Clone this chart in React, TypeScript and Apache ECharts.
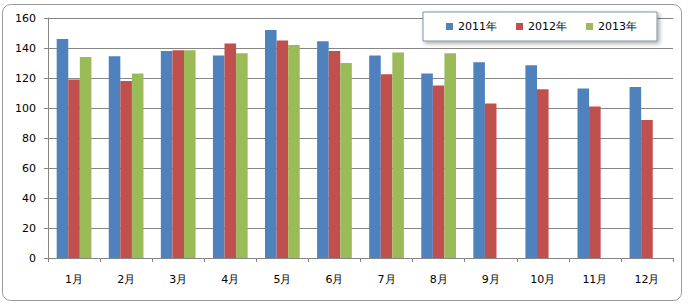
import React, { useEffect, useRef } from "react";
import * as echarts from "echarts";

const months = ["1月", "2月", "3月", "4月", "5月", "6月", "7月", "8月", "9月", "10月", "11月", "12月"];
const seriesNames = ["2011年", "2012年", "2013年"];
const v2011 = [146, 134.5, 138, 135, 152, 144.5, 135, 123, 130.5, 128.5, 113, 114];
const v2012 = [119, 118, 138.5, 143, 145, 138, 122.5, 115, 103, 112.5, 101, 92];
const v2013 = [134, 123, 138.5, 136.5, 142, 130, 137, 136.5, null, null, null, null];
const colors = ["#4F81BD", "#C0504D", "#9BBB59"];
const FONT = "DejaVu Sans";

export default function App() {
  const ref = useRef<HTMLDivElement>(null);
  useEffect(() => {
    document.body.style.margin = "0";
    const chart = echarts.init(ref.current!, null, { renderer: "svg" });
    const data = [v2011, v2012, v2013];
    chart.setOption({
      animation: false,
      backgroundColor: "#ffffff",
      textStyle: { fontFamily: FONT },
      graphic: [
        {
          type: "rect",
          shape: { x: 2.5, y: 4.5, width: 679, height: 296, r: 8 },
          style: { fill: "none", stroke: "#9a9a9a", lineWidth: 1 },
          z: -1,
        },
      ],
      legend: {
        left: 423,
        top: 12,
        padding: [9, 20, 9, 23],
        itemWidth: 7,
        itemHeight: 7,
        itemGap: 19,
        icon: "rect",
        backgroundColor: "#ffffff",
        borderColor: "#7f93ad",
        borderWidth: 1,
        shadowColor: "rgba(0,0,0,0.35)",
        shadowBlur: 4,
        shadowOffsetX: 2,
        shadowOffsetY: 2,
        textStyle: { fontFamily: FONT, fontSize: 11, color: "#000" },
        data: seriesNames,
      },
      grid: { left: 48, right: 17, top: 18, bottom: 47, containLabel: false },
      xAxis: {
        type: "category",
        data: months,
        axisLine: { lineStyle: { color: "#868686" } },
        axisTick: { show: true, length: 4, inside: false, lineStyle: { color: "#868686" } },
        axisLabel: { fontFamily: FONT, fontSize: 11, color: "#000", margin: 16 },
      },
      yAxis: {
        type: "value",
        min: 0,
        max: 160,
        interval: 20,
        axisLine: { show: true, lineStyle: { color: "#868686" } },
        axisTick: { show: true, length: 4, lineStyle: { color: "#868686" } },
        axisLabel: { fontFamily: FONT, fontSize: 11, color: "#000", margin: 12 },
        splitLine: { lineStyle: { color: "#868686" } },
      },
      series: seriesNames.map((n, i) => ({
        name: n,
        type: "bar",
        data: data[i],
        barGap: "0%",
        barCategoryGap: "33.3%",
        itemStyle: { color: colors[i] },
      })),
    });
    return () => chart.dispose();
  }, []);
  return <div ref={ref} style={{ width: 690, height: 305 }} />;
}
